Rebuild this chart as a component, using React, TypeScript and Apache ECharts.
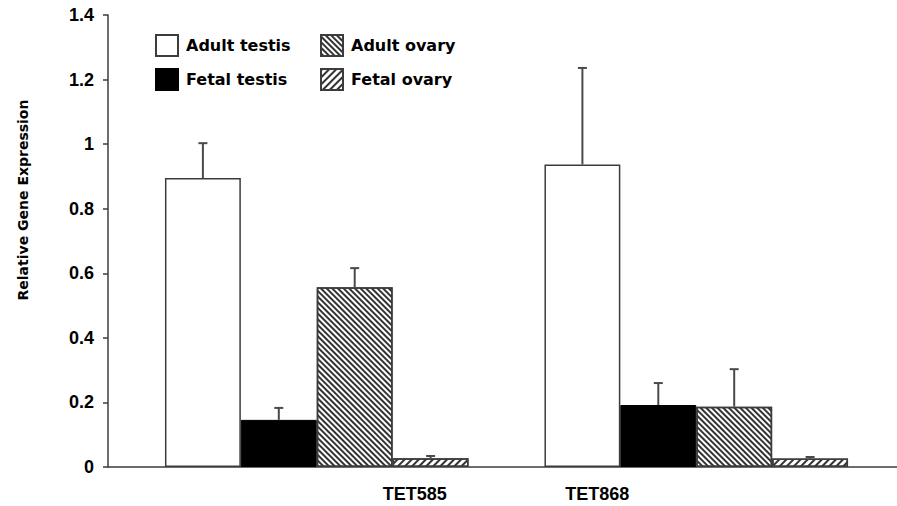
import React, { useEffect, useRef } from "react";
import * as echarts from "echarts";

const categories = ["TET585", "TET868"];
const seriesNames = ["Adult testis", "Fetal testis", "Adult ovary", "Fetal ovary"];
const adultTestis = [0.895, 0.937];
const fetalTestis = [0.146, 0.192];
const adultOvary = [0.557, 0.187];
const fetalOvary = [0.027, 0.026];
const adultTestisErr = [0.108, 0.299];
const fetalTestisErr = [0.037, 0.068];
const adultOvaryErr = [0.059, 0.116];
const fetalOvaryErr = [0.007, 0.005];
const yTicks = [0, 0.2, 0.4, 0.6, 0.8, 1, 1.2, 1.4];

const values = [adultTestis, fetalTestis, adultOvary, fetalOvary];
const errors = [adultTestisErr, fetalTestisErr, adultOvaryErr, fetalOvaryErr];

const EDGE = "#3c3c3c";

const decalAdultOvary = {
  symbol: "rect",
  symbolSize: 1,
  color: "#333",
  dashArrayX: [1, 0],
  dashArrayY: [2, 2],
  rotation: Math.PI / 4,
};
const decalFetalOvary = {
  symbol: "rect",
  symbolSize: 1,
  color: "#333",
  dashArrayX: [1, 0],
  dashArrayY: [2, 3],
  rotation: -Math.PI / 4,
};

const itemStyles: any[] = [
  { color: "#ffffff", borderColor: EDGE, borderWidth: 1.5 },
  { color: "#000000", borderColor: "#000", borderWidth: 1 },
  { color: "#ffffff", borderColor: EDGE, borderWidth: 1.5, decal: decalAdultOvary },
  { color: "#ffffff", borderColor: EDGE, borderWidth: 1.5, decal: decalFetalOvary },
];

export default function App() {
  const ref = useRef<HTMLDivElement>(null);
  useEffect(() => {
    if (!ref.current) return;
    const chart = echarts.init(ref.current, undefined, { renderer: "svg" });

    const errData: any[] = [];
    values.forEach((vals, s) => {
      vals.forEach((v, c) => {
        errData.push([c, v, errors[s][c], s]);
      });
    });

    const legendText = {
      fontFamily: "DejaVu Sans",
      fontWeight: "bold",
      fontSize: 16,
      color: "#000",
      padding: [0, 0, 0, 3],
    };
    const legendPos = [
      { left: 150, top: 29 },
      { left: 150, top: 63 },
      { left: 315, top: 29 },
      { left: 315, top: 63 },
    ];

    const option: any = {
      animation: false,
      backgroundColor: "#fff",
      legend: seriesNames.map((n, i) => ({
        data: [n],
        ...legendPos[i],
        icon: "rect",
        itemWidth: 22,
        itemHeight: 21,
        textStyle: legendText,
        selectedMode: false,
      })),
      grid: [
        { left: 127, right: 11, top: 15, bottom: 39 },
        { left: 108, right: 0, top: 15, bottom: 39 },
      ],
      xAxis: [
        {
          type: "category",
          gridIndex: 0,
          data: categories,
          axisLine: { show: false },
          axisTick: { show: false },
          axisLabel: {
            margin: 18,
            fontFamily: "Liberation Sans",
            fontWeight: "bold",
            fontSize: 18,
            color: "#000",
            formatter: (v: string, i: number) => (i === 0 ? `{a|${v}}` : `{b|${v}}`),
            rich: {
              a: { padding: [0, 0, 0, 196], fontFamily: "Liberation Sans", fontWeight: "bold", fontSize: 18, color: "#000" },
              b: { padding: [0, 198, 0, 0], fontFamily: "Liberation Sans", fontWeight: "bold", fontSize: 18, color: "#000" },
            },
          },
        },
        {
          type: "value",
          gridIndex: 1,
          min: 0,
          max: 1,
          position: "bottom",
          axisLine: { show: true, onZero: false, lineStyle: { color: EDGE, width: 1.5 } },
          axisTick: { show: false },
          axisLabel: { show: false },
          splitLine: { show: false },
        },
      ],
      yAxis: [
        {
          type: "value",
          gridIndex: 0,
          min: 0,
          max: 1.4,
          interval: 0.2,
          offset: 19,
          name: "Relative Gene Expression",
          nameLocation: "middle",
          nameGap: 78,
          nameRotate: 90,
          nameTextStyle: {
            fontFamily: "DejaVu Sans",
            fontWeight: "bold",
            fontSize: 14,
            color: "#000",
            padding: [0, 0, 0, 82],
          },
          axisLine: { show: true, lineStyle: { color: EDGE, width: 1.5 } },
          axisTick: { show: true, length: 5, lineStyle: { color: EDGE, width: 1.5 } },
          splitLine: { show: false },
          axisLabel: {
            margin: 14,
            fontFamily: "Liberation Sans",
            fontWeight: "bold",
            fontSize: 18,
            color: "#000",
            formatter: (v: number) => (yTicks.includes(+v.toFixed(1)) ? String(+v.toFixed(1)) : ""),
          },
        },
        { type: "value", gridIndex: 1, show: false, min: 0, max: 1 },
      ],
      series: [
        ...seriesNames.map((n, i) => ({
          name: n,
          type: "bar",
          xAxisIndex: 0,
          yAxisIndex: 0,
          data: values[i],
          barGap: "0%",
          barCategoryGap: "20%",
          itemStyle: itemStyles[i],
          emphasis: { disabled: true },
        })),
        {
          name: "errors",
          type: "custom",
          xAxisIndex: 0,
          yAxisIndex: 0,
          data: errData,
          encode: { x: 0, y: 1 },
          z: 5,
          renderItem: (params: any, api: any) => {
            const cat = api.value(0);
            const val = api.value(1);
            const err = api.value(2);
            const s = api.value(3);
            const base = api.coord([cat, val]);
            const top = api.coord([cat, val + err]);
            const band = api.size([1, 0])[0];
            const bw = (band * 0.8) / 4;
            const x = base[0] + (s - 1.5) * bw;
            const st = { stroke: "#4a4a4a", lineWidth: 2 };
            return {
              type: "group",
              children: [
                { type: "line", shape: { x1: x, y1: base[1], x2: x, y2: top[1] }, style: st },
                { type: "line", shape: { x1: x - 4.5, y1: top[1], x2: x + 4.5, y2: top[1] }, style: st },
              ],
            };
          },
        },
      ],
    };
    chart.setOption(option);
    return () => chart.dispose();
  }, []);
  return (
    <div
      ref={ref}
      style={{ position: "fixed", left: 0, top: 0, width: 897, height: 506 }}
    />
  );
}
